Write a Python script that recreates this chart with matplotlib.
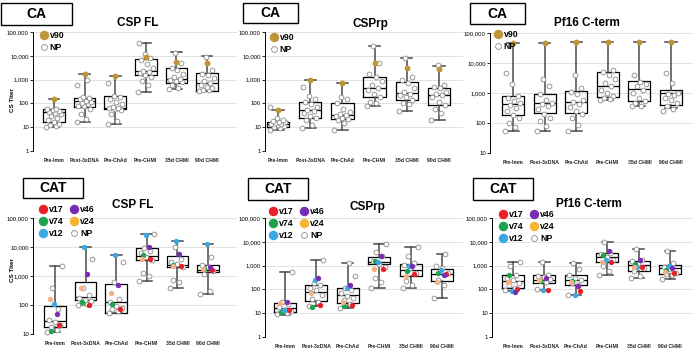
import matplotlib
matplotlib.use("Agg")
import matplotlib.pyplot as plt
from matplotlib.lines import Line2D
from matplotlib.patches import Rectangle
import numpy as np

plt.rcParams["font.family"] = ["Liberation Sans", "DejaVu Sans"]

W, H = 693, 350

groups = ["Pre-Imm", "Post-3xDNA", "Pre-ChAd", "Pre-CHMI", "35d CHMI", "90d CHMI"]
tick_values = [1, 10, 100, 1000, 10000, 100000]
tick_labels = ["1", "10", "100", "1,000", "10,000", "100,000"]

# ---- CA cohort: CSP FL ----
ca_cspfl_q1 = [16, 72, 60, 1520, 750, 345]
ca_cspfl_med = [45, 130, 65, 2300, 1100, 700]
ca_cspfl_q3 = [58, 174, 195, 7200, 3000, 1860]
ca_cspfl_lo = [10, 17, 14, 310, 390, 330]
ca_cspfl_hi = [150, 1740, 1420, 34600, 13800, 10000]
ca_cspfl_np = [
    [10, 11, 12, 14, 16, 20, 25, 30, 35, 40, 45, 50, 55, 58, 60],
    [17, 22, 35, 60, 75, 80, 90, 100, 110, 130, 150, 170, 180, 590, 1000],
    [14, 18, 35, 55, 60, 62, 65, 70, 90, 110, 150, 190, 200, 700],
    [310, 600, 900, 1300, 1600, 1900, 2100, 2300, 3000, 4500, 6500, 8000, 12000, 34000],
    [390, 450, 600, 800, 900, 1000, 1100, 1300, 1800, 2500, 3000, 5000, 13000],
    [330, 350, 380, 450, 500, 600, 700, 900, 1200, 1600, 1800, 2500, 9000],
]
ca_cspfl_v90 = [150, 1700, 1400, 9300, 5700, 4900]

# ---- CA cohort: CSPrp ----
ca_csprp_q1 = [10, 25, 22, 190, 138, 85]
ca_csprp_med = [13.5, 52, 32, 460, 265, 225]
ca_csprp_q3 = [17, 118, 100, 1340, 770, 430]
ca_csprp_lo = [8, 9.4, 8, 77, 47, 21]
ca_csprp_hi = [52, 970, 750, 26500, 7900, 3800]
ca_csprp_np = [
    [8, 9, 10, 11, 12, 13, 14, 15, 16, 17, 18, 20, 25, 70],
    [9.5, 12, 20, 25, 30, 40, 50, 55, 70, 90, 120, 150, 200, 500],
    [8, 15, 20, 22, 25, 30, 32, 35, 45, 60, 100, 150, 180],
    [80, 100, 120, 190, 250, 350, 450, 600, 900, 1300, 1800, 5000, 26500],
    [47, 90, 100, 140, 180, 220, 260, 300, 450, 700, 1000, 1300, 8000],
    [21, 40, 60, 85, 120, 180, 220, 250, 300, 430, 500, 600, 4000],
]
ca_csprp_v90 = [52, 970, 750, 4900, 3200, 2700]

# ---- CA cohort: Pf16 C-term ----
ca_pf16_q1 = [190, 215, 215, 735, 525, 410]
ca_pf16_med = [440, 465, 490, 1750, 1400, 1000]
ca_pf16_q3 = [775, 950, 1200, 5000, 2450, 1230]
ca_pf16_lo = [53, 53, 53, 600, 360, 315]
ca_pf16_hi = [45000, 45000, 50000, 50000, 50000, 50000]
ca_pf16_np = [
    [53, 75, 100, 150, 180, 250, 320, 400, 450, 550, 700, 800, 2000, 4500],
    [53, 80, 120, 150, 200, 300, 380, 420, 480, 600, 900, 1700, 3000],
    [53, 85, 150, 200, 260, 350, 420, 500, 600, 900, 1100, 1500, 4000],
    [600, 650, 700, 800, 1000, 1300, 1700, 2200, 3000, 4000, 5000, 6000],
    [360, 380, 450, 550, 700, 1000, 1300, 1700, 2000, 2300, 4000],
    [250, 300, 380, 450, 600, 700, 850, 950, 1000, 2100, 4500],
]
ca_pf16_v90 = [45000, 45000, 50000, 50000, 50000, 50000]

# ---- CAT cohort: CSP FL ----
cat_cspfl_q1 = [18, 148, 52, 3700, 2000, 1370]
cat_cspfl_med = [27, 190, 130, 5000, 2450, 1650]
cat_cspfl_q3 = [95, 630, 550, 9000, 5000, 2450]
cat_cspfl_lo = [12, 100, 52, 660, 400, 245]
cat_cspfl_hi = [2300, 10200, 5500, 27500, 16600, 12600]
cat_cspfl_np = [
    [12, 14, 17, 20, 25, 30, 70, 400, 2300],
    [100, 110, 120, 140, 150, 180, 230, 400, 4000],
    [55, 60, 70, 80, 90, 130, 160, 600, 3000],
    [660, 1000, 1300, 3500, 4500, 6000, 7000, 9000, 27500],
    [400, 600, 700, 2000, 2500, 3000, 4000, 10000],
    [245, 300, 1200, 1500, 2100, 2400, 4500],
]
cat_cspfl_v17 = [21, 100, 73, 3900, 2300, 1550]
cat_cspfl_v74 = [13, 130, 110, 5500, 2450, 1700]
cat_cspfl_v12 = [105, 10200, 5500, 25700, 16600, 12600]
cat_cspfl_v46 = [48, 1150, 480, 10200, 5700, 2000]
cat_cspfl_v24 = [160, 390, 250, 3900, 2200, 1700]

# ---- CAT cohort: CSPrp ----
cat_csprp_q1 = [11.4, 32, 26, 1140, 365, 225]
cat_csprp_med = [16, 80, 58, 1380, 660, 430]
cat_csprp_q3 = [26, 150, 110, 2400, 1140, 720]
cat_csprp_lo = [8.8, 20, 16, 110, 118, 42]
cat_csprp_hi = [560, 1740, 1250, 7900, 5900, 3100]
cat_csprp_np = [
    [9, 10, 11, 12, 14, 18, 25, 30, 560],
    [20, 30, 40, 60, 90, 120, 150, 180, 1740],
    [16, 25, 35, 45, 55, 70, 90, 110, 380, 1250],
    [110, 200, 300, 900, 1200, 1500, 2500, 3800, 7900],
    [118, 160, 220, 500, 800, 1100, 1300, 2500, 5900],
    [42, 150, 250, 500, 800, 1000, 3100],
]
cat_csprp_v17 = [13, 22, 22, 700, 430, 430]
cat_csprp_v74 = [11, 18.5, 20, 1580, 615, 500]
cat_csprp_v12 = [13, 250, 120, 1380, 1000, 660]
cat_csprp_v46 = [30, 310, 150, 2550, 1000, 400]
cat_csprp_v24 = [26, 68, 30, 720, 365, 210]

# ---- CAT cohort: Pf16 C-term ----
cat_pf16_q1 = [115, 187, 160, 1440, 580, 450]
cat_pf16_med = [235, 237, 260, 2250, 1040, 800]
cat_pf16_q3 = [420, 420, 420, 3400, 1620, 1040]
cat_pf16_lo = [83, 98, 60, 420, 300, 280]
cat_pf16_hi = [1440, 1400, 1300, 10000, 5200, 4000]
cat_pf16_np = [
    [90, 120, 150, 180, 250, 300, 420, 1000, 1440],
    [100, 200, 250, 280, 320, 380, 420, 1400],
    [60, 150, 180, 250, 300, 400, 700, 1300],
    [420, 600, 1000, 1800, 2200, 3000, 3400, 10000],
    [300, 350, 600, 800, 1200, 1500, 1700, 5200],
    [280, 400, 450, 500, 700, 900, 1300, 4000],
]
cat_pf16_v17 = [105, 98, 89, 1440, 850, 490]
cat_pf16_v74 = [395, 220, 235, 2750, 1180, 680]
cat_pf16_v12 = [83, 98, 57, 1780, 850, 940]
cat_pf16_v46 = [78, 300, 145, 4300, 1780, 800]
cat_pf16_v24 = [200, 260, 205, 1440, 850, 540]

GOLD = "#BE9638"
VOL_COLORS = {"v17": "#E8202A", "v74": "#1DA34C", "v12": "#3AA9E3",
              "v46": "#7A2DB3", "v24": "#F4B183"}
VOL_LEGEND = {"v17": "#E8202A", "v74": "#1DA34C", "v12": "#3AA9E3",
              "v46": "#7A2DB3", "v24": "#F5B532"}
VOL_OFFSET = {"v17": 0.12, "v74": -0.13, "v12": -0.04, "v46": 0.06, "v24": -0.16}

# panel layout in pixels: axes left, top, right, bottom; first / last category centre
panels = [
    dict(cohort="CA", title="CSP FL", box=(1, 3, 72, 25), title_xy=(138, 23),
         ax_px=(33, 32, 237, 151), cat_px=(54, 207), ymin=1, ylabel_xy=(12, 100),
         q1=ca_cspfl_q1, med=ca_cspfl_med, q3=ca_cspfl_q3, lo=ca_cspfl_lo, hi=ca_cspfl_hi,
         np_pts=ca_cspfl_np, extra={"v90": ca_cspfl_v90}, leg_xy=(35, 27)),
    dict(cohort="CA", title="CSPrp", box=(243, 3, 298, 23), title_xy=(370, 24),
         ax_px=(265, 32, 463, 151), cat_px=(278, 439), ymin=1, ylabel_xy=None,
         q1=ca_csprp_q1, med=ca_csprp_med, q3=ca_csprp_q3, lo=ca_csprp_lo, hi=ca_csprp_hi,
         np_pts=ca_csprp_np, extra={"v90": ca_csprp_v90}, leg_xy=(265, 29)),
    dict(cohort="CA", title="Pf16 C-term", box=(470, 3, 525, 24), title_xy=(587, 23),
         ax_px=(490, 33, 693, 153), cat_px=(513, 671), ymin=10, ylabel_xy=None,
         q1=ca_pf16_q1, med=ca_pf16_med, q3=ca_pf16_q3, lo=ca_pf16_lo, hi=ca_pf16_hi,
         np_pts=ca_pf16_np, extra={"v90": ca_pf16_v90}, leg_xy=(489, 26)),
    dict(cohort="CAT", title="CSP FL", box=(23, 178, 83, 198), title_xy=(133, 205),
         ax_px=(33, 218, 237, 334), cat_px=(55, 208), ymin=10, ylabel_xy=(12, 270),
         q1=cat_cspfl_q1, med=cat_cspfl_med, q3=cat_cspfl_q3, lo=cat_cspfl_lo, hi=cat_cspfl_hi,
         np_pts=cat_cspfl_np,
         extra={"v17": cat_cspfl_v17, "v74": cat_cspfl_v74, "v12": cat_cspfl_v12,
                "v46": cat_cspfl_v46, "v24": cat_cspfl_v24}, leg_xy=(34, 201)),
    dict(cohort="CAT", title="CSPrp", box=(248, 178, 308, 200), title_xy=(367, 207),
         ax_px=(265, 218, 463, 337), cat_px=(285, 442), ymin=1, ylabel_xy=None,
         q1=cat_csprp_q1, med=cat_csprp_med, q3=cat_csprp_q3, lo=cat_csprp_lo, hi=cat_csprp_hi,
         np_pts=cat_csprp_np,
         extra={"v17": cat_csprp_v17, "v74": cat_csprp_v74, "v12": cat_csprp_v12,
                "v46": cat_csprp_v46, "v24": cat_csprp_v24}, leg_xy=(264, 203)),
    dict(cohort="CAT", title="Pf16 C-term", box=(473, 178, 533, 200), title_xy=(589, 204),
         ax_px=(492, 218, 693, 337), cat_px=(513, 670), ymin=1, ylabel_xy=None,
         q1=cat_pf16_q1, med=cat_pf16_med, q3=cat_pf16_q3, lo=cat_pf16_lo, hi=cat_pf16_hi,
         np_pts=cat_pf16_np,
         extra={"v17": cat_pf16_v17, "v74": cat_pf16_v74, "v12": cat_pf16_v12,
                "v46": cat_pf16_v46, "v24": cat_pf16_v24}, leg_xy=(494, 206)),
]


def fx(x):
    return x / W


def fy(y):
    return 1 - y / H


def spread(n):
    """Deterministic horizontal spread for n points."""
    idx = np.arange(n)
    return ((idx * 0.618) % 1 - 0.5) * 0.5


def dot(color, hollow=False):
    if hollow:
        return Line2D([], [], ls="", marker="o", ms=4.2, mfc="white",
                      mec="#8a8a8a", mew=0.6)
    return Line2D([], [], ls="", marker="o", ms=5.8, mfc=color, mec=color)


def draw_panel(fig, p):
    l, t, r, b = p["ax_px"]
    ax = fig.add_axes([fx(l), fy(b), (r - l) / W, (b - t) / H])
    c0, c5 = p["cat_px"]
    step = (c5 - c0) / 5
    ax.set_xlim(-(c0 - l) / step, 5 + (r - c5) / step)
    ax.set_yscale("log")
    ax.set_ylim(p["ymin"], 100000)

    ticks = [v for v in tick_values if v >= p["ymin"]]
    labels = [s for v, s in zip(tick_values, tick_labels) if v >= p["ymin"]]
    ax.set_yticks(ticks)
    ax.set_yticklabels(labels)
    ax.minorticks_off()
    for v in ticks[1:]:
        ax.axhline(v, color="#dcdcdc", lw=0.6, zorder=0)

    stats = []
    for i in range(len(groups)):
        stats.append(dict(q1=p["q1"][i], med=p["med"][i], q3=p["q3"][i],
                          whislo=p["lo"][i], whishi=p["hi"][i], fliers=[]))
    ax.bxp(stats, positions=range(len(groups)), widths=0.7, showfliers=False,
           capwidths=0.35,
           boxprops=dict(color="black", lw=0.9),
           medianprops=dict(color="black", lw=0.9),
           whiskerprops=dict(color="#4a4a4a", lw=1.1),
           capprops=dict(color="#4a4a4a", lw=1.1), manage_ticks=False)

    for i, vals in enumerate(p["np_pts"]):
        xs = i + spread(len(vals))
        ax.scatter(xs, vals, s=12, facecolor="white", edgecolor="#8a8a8a",
                   lw=0.6, zorder=3, clip_on=False)

    for name, vals in p["extra"].items():
        if name == "v90":
            ax.scatter(range(len(groups)), vals, s=18, color=GOLD, lw=0,
                       zorder=4, clip_on=False)
        else:
            xs = np.arange(len(groups)) + VOL_OFFSET[name]
            ax.scatter(xs, vals, s=15, color=VOL_COLORS[name], lw=0,
                       zorder=4, clip_on=False)

    ax.set_xticks(range(len(groups)))
    ax.set_xticklabels(groups, fontsize=3.7, fontweight="bold", color="#222222")
    ax.tick_params(axis="x", length=0, pad=5)
    ax.tick_params(axis="y", length=2, width=0.6, labelsize=4.3, pad=1)
    for s in ("top", "right", "bottom"):
        ax.spines[s].set_visible(False)
    ax.spines["left"].set_linewidth(0.7)

    # cohort box + title
    x0, y0, x1, y1 = p["box"]
    fig.add_artist(Rectangle((fx(x0), fy(y1)), (x1 - x0) / W, (y1 - y0) / H,
                             transform=fig.transFigure, fill=False,
                             edgecolor="black", lw=1.0))
    fig.text(fx((x0 + x1) / 2), fy((y0 + y1) / 2), p["cohort"], ha="center",
             va="center", fontsize=10, fontweight="bold",
             family=["Liberation Sans Narrow", "Liberation Sans", "DejaVu Sans"])
    fig.text(fx(p["title_xy"][0]), fy(p["title_xy"][1]), p["title"], ha="center",
             va="center", fontsize=8.5, fontweight="bold")
    if p["ylabel_xy"]:
        fig.text(fx(p["ylabel_xy"][0]), fy(p["ylabel_xy"][1]), "CS Titer",
                 rotation=90, ha="center", va="center", fontsize=4.5,
                 fontweight="bold")

    if p["cohort"] == "CA":
        handles = [dot(GOLD), dot(None, True)]
        names = ["v90", "NP"]
        ncol = 1
    else:
        handles = [dot(VOL_LEGEND[k]) for k in ("v17", "v74", "v12", "v46", "v24")]
        handles.append(dot(None, True))
        names = ["v17", "v74", "v12", "v46", "v24", "NP"]
        ncol = 2
    fig.legend(handles, names, loc="upper left",
               bbox_to_anchor=(fx(p["leg_xy"][0]), fy(p["leg_xy"][1])),
               ncol=ncol, frameon=False, borderpad=0, handlelength=1.0,
               handletextpad=0.2, labelspacing=0.3, columnspacing=0.7,
               prop=dict(size=6.3, weight="bold"))


fig = plt.figure(figsize=(W / 100, H / 100), dpi=100)
for panel in panels:
    draw_panel(fig, panel)

fig.savefig("out.png", dpi=100)
